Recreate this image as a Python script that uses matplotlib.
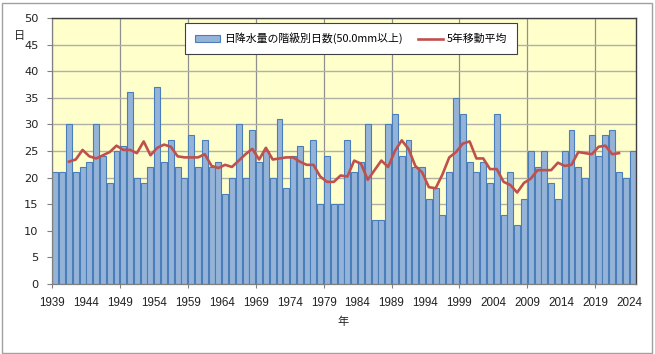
import matplotlib

matplotlib.use("Agg")
import matplotlib.pyplot as plt
import numpy as np
import pandas as pd
from matplotlib.lines import Line2D
from matplotlib.patches import Patch, Rectangle

# 日降水量50.0mm以上の年間日数 (1939-2024)
years = list(range(1939, 2025))
days = [
    21, 21, 30, 21, 22, 23, 30, 24, 19, 25,
    26, 36, 20, 19, 22, 37, 23, 27, 22, 20,
    28, 22, 27, 22, 23, 17, 20, 30, 20, 29,
    23, 25, 20, 31, 18, 24, 26, 20, 27, 15,
    24, 15, 15, 27, 21, 23, 30, 12, 12, 30,
    32, 24, 27, 22, 22, 16, 18, 13, 21, 35,
    32, 23, 21, 23, 19, 32, 13, 21, 11, 16,
    25, 22, 25, 19, 16, 25, 29, 22, 20, 28,
    24, 28, 29, 21, 20, 25,
]
bar_label = "日降水量の階級別日数(50.0mm以上)"
line_label = "5年移動平均"

# centred 5-year running mean, as drawn in the original
moving = pd.Series(days).rolling(5, center=True).mean()

BAR_FILL = "#95b3d7"
BAR_EDGE = "#4a7ebb"
RED = "#c0504d"
GRID = "#b0b0a8"
CJK = ["Noto Sans CJK JP", "DejaVu Sans"]

fig = plt.figure(figsize=(6.55, 3.54), dpi=100)
ax = fig.add_axes([52 / 655, 1 - 284 / 354, (636 - 52) / 655, (284 - 18) / 354])
ax.set_facecolor("#ffffcc")

x = np.arange(len(years)) + 0.5
ax.bar(x, days, width=0.88, color=BAR_FILL, edgecolor=BAR_EDGE,
       linewidth=0.8, zorder=2)
ax.plot(x, moving, color=RED, linewidth=1.9, zorder=3)

ax.set_xlim(0, len(years))
ax.set_ylim(0, 50)
ax.set_yticks(range(0, 51, 5))
ax.grid(axis="y", color=GRID, linewidth=1.0, zorder=0)

idx = np.arange(0, len(years), 5)
major = idx[::2]
minor = idx[1::2]
ax.set_xticks(major, [str(years[i]) for i in major])
ax.set_xticks(minor, [str(years[i]) for i in minor], minor=True)
ax.grid(axis="x", which="major", color="#909090", linewidth=0.9, zorder=0)

ax.tick_params(axis="y", length=3.6, width=0.8, color="#808080", pad=6,
               labelsize=8.2, labelcolor="#222222")
ax.tick_params(axis="x", which="major", length=3, width=0.8,
               color="#808080", pad=6.5, labelsize=8.4)
ax.tick_params(axis="x", which="minor", length=0, pad=9.5, labelsize=8.4)
for lab in ax.get_xticklabels(which="both"):
    lab.set_family(["Liberation Sans", "DejaVu Sans"])
    lab.set_color("#222222")

for side in ("top", "right"):
    ax.spines[side].set_color("#404040")
    ax.spines[side].set_linewidth(1.0)
for side in ("left", "bottom"):
    ax.spines[side].set_color("#808080")
    ax.spines[side].set_linewidth(0.9)

fig.text(19.5 / 655, 1 - 36 / 354, "日", family=CJK, fontsize=8,
         ha="center", va="center", color="#222222")
fig.text(343 / 655, 1 - 322 / 354, "年", family=CJK, fontsize=8,
         ha="center", va="center", color="#222222")

handles = [
    Patch(facecolor=BAR_FILL, edgecolor=BAR_EDGE, linewidth=0.8),
    Line2D([], [], color=RED, linewidth=1.9),
]
leg = fig.legend(handles, [bar_label, line_label], ncol=2,
                 loc="center", bbox_to_anchor=(351 / 655, 1 - 38.5 / 354),
                 prop={"family": CJK, "size": 7.8}, fancybox=False,
                 edgecolor="#404040", framealpha=1, borderpad=0.85,
                 handlelength=2.3, handleheight=0.5, handletextpad=0.4,
                 columnspacing=1.4)
leg.get_frame().set_linewidth(0.8)

fig.add_artist(Rectangle((1.5 / 655, 1.5 / 354), 650 / 655, 350 / 354,
                         transform=fig.transFigure, fill=False,
                         edgecolor="#a0a0a0", linewidth=1.0))

fig.savefig("out.png", dpi=100, facecolor="white")
